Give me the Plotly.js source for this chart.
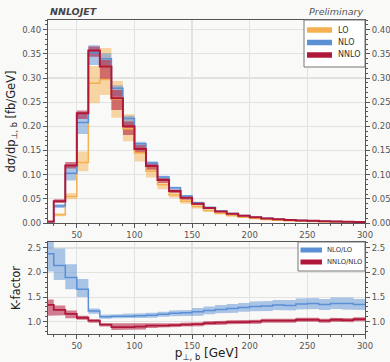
<!DOCTYPE html>
<html><head><meta charset="utf-8">
<script src="https://cdn.plot.ly/plotly-3.0.1.min.js"></script>
<style>html,body{margin:0;padding:0;background:#f9f9f7;} #chart{width:390px;height:362px;}</style>
</head><body><div id="chart"></div>
<script>
// ---- data (bins in p_T,b [GeV]) ----
const binEdges = [25,30,40,50,60,70,80,90,100,110,120,130,140,150,160,170,180,190,200,210,220,230,240,250,260,270,280,290,300];

const loCentral = [0.001,0.017,0.055,0.125,0.289,0.297,0.256,0.195,0.145,0.107,0.079,0.058,0.045,0.034,0.026,0.020,0.0155,0.012,0.0093,0.0073,0.0058,0.0047,0.0038,0.0032,0.0026,0.0022,0.0018,0.0015];
const loUpper   = [0.0015,0.020,0.062,0.148,0.325,0.362,0.294,0.225,0.157,0.117,0.086,0.063,0.049,0.037,0.028,0.022,0.017,0.013,0.0102,0.008,0.0064,0.0052,0.0042,0.0035,0.0029,0.0024,0.002,0.0017];
const loLower   = [0.0007,0.014,0.049,0.107,0.248,0.265,0.218,0.169,0.127,0.094,0.070,0.052,0.040,0.030,0.023,0.0176,0.0136,0.0105,0.0082,0.0064,0.0051,0.0041,0.0033,0.0028,0.0023,0.0019,0.0016,0.0013];

const nloCentral = [0.002,0.035,0.103,0.208,0.352,0.340,0.279,0.216,0.164,0.124,0.095,0.073,0.056,0.042,0.032,0.025,0.0195,0.0153,0.012,0.0096,0.0077,0.0063,0.0052,0.0043,0.0036,0.0029,0.0024,0.0020];
const nloUpper   = [0.003,0.039,0.117,0.229,0.368,0.351,0.285,0.222,0.168,0.128,0.098,0.075,0.058,0.044,0.034,0.026,0.0205,0.0162,0.0127,0.0102,0.0082,0.0067,0.0056,0.0046,0.0039,0.0031,0.0026,0.0022];
const nloLower   = [0.001,0.031,0.088,0.184,0.327,0.327,0.262,0.203,0.155,0.117,0.089,0.068,0.052,0.039,0.030,0.023,0.018,0.0142,0.0112,0.0089,0.0071,0.0058,0.0048,0.0040,0.0033,0.0027,0.0022,0.0018];

const nnloCentral = [0.003,0.045,0.119,0.227,0.357,0.324,0.258,0.200,0.153,0.118,0.089,0.066,0.052,0.040,0.031,0.024,0.019,0.015,0.012,0.0095,0.0078,0.0064,0.0053,0.0044,0.0036,0.0030,0.0025,0.0021];
const nnloUpper   = [0.004,0.049,0.126,0.233,0.365,0.337,0.275,0.210,0.162,0.124,0.093,0.069,0.054,0.042,0.032,0.025,0.020,0.0157,0.0126,0.0100,0.0082,0.0067,0.0056,0.0046,0.0038,0.0032,0.0027,0.0022];
const nnloLower   = [0.002,0.042,0.113,0.215,0.344,0.296,0.234,0.182,0.145,0.110,0.083,0.062,0.048,0.037,0.029,0.022,0.0175,0.0138,0.011,0.0087,0.0072,0.0059,0.0049,0.0040,0.0033,0.0027,0.0023,0.0019];

const kNloLoCentral = [2.38,2.14,1.90,1.66,1.22,1.10,1.11,1.11,1.12,1.13,1.15,1.17,1.18,1.20,1.23,1.25,1.27,1.29,1.31,1.32,1.34,1.33,1.36,1.37,1.35,1.37,1.37,1.35];
const kNloLoUpper   = [2.75,2.49,2.17,1.87,1.27,1.14,1.15,1.16,1.17,1.18,1.20,1.23,1.24,1.28,1.31,1.34,1.36,1.38,1.41,1.42,1.44,1.44,1.47,1.48,1.46,1.49,1.49,1.46];
const kNloLoLower   = [2.02,1.85,1.66,1.50,1.16,1.06,1.07,1.07,1.07,1.08,1.10,1.11,1.12,1.12,1.15,1.17,1.18,1.20,1.21,1.22,1.24,1.23,1.25,1.26,1.24,1.26,1.25,1.24];

const kNnloNloCentral = [1.34,1.24,1.16,1.08,1.02,0.94,0.89,0.89,0.90,0.92,0.92,0.93,0.94,0.95,0.97,0.98,0.99,0.99,1.00,1.02,1.02,1.02,1.04,1.04,1.02,1.04,1.03,1.05];
const kNnloNloUpper   = [1.45,1.33,1.23,1.12,1.05,0.97,0.96,0.96,0.96,0.96,0.96,0.97,0.98,0.99,1.01,1.02,1.03,1.03,1.04,1.06,1.06,1.06,1.08,1.08,1.06,1.08,1.07,1.09];
const kNnloNloLower   = [1.12,1.13,1.07,1.04,0.98,0.90,0.83,0.83,0.84,0.87,0.88,0.89,0.90,0.91,0.93,0.94,0.95,0.95,0.96,0.98,0.98,0.98,1.00,1.00,0.98,1.00,0.99,1.01];

const xTickVals = [50,100,150,200,250,300];
const mainLegendLabels = ['LO','NLO','NNLO'];
const ratioLegendLabels = ['NLO/LO','NNLO/NLO'];

// ---- styles ----
const COL = {lo:'#F5B14F', nlo:'#5B8FD6', nnlo:'#B0183A'};
const FILL = {lo:'rgba(245,177,79,0.5)', nlo:'rgba(91,143,214,0.5)', nnlo:'rgba(176,24,58,0.55)'};
const FONT = 'DejaVu Sans, sans-serif';

function stepLine(vals, xa, ya, color, width){
  return {type:'scatter', mode:'lines', x:binEdges, y:vals.concat([vals[vals.length-1]]),
    line:{shape:'hv', color:color, width:width}, xaxis:xa, yaxis:ya, showlegend:false, hoverinfo:'skip'};
}
function band(lo, hi, xa, ya, fill){
  const xs=[], ys=[];
  for(let i=0;i<hi.length;i++){ xs.push(binEdges[i], binEdges[i+1]); ys.push(hi[i], hi[i]); }
  for(let i=lo.length-1;i>=0;i--){ xs.push(binEdges[i+1], binEdges[i]); ys.push(lo[i], lo[i]); }
  return {type:'scatter', mode:'lines', x:xs, y:ys, fill:'toself', fillcolor:fill,
    line:{width:0}, xaxis:xa, yaxis:ya, showlegend:false, hoverinfo:'skip'};
}

const data = [
  band(loLower, loUpper, 'x','y', FILL.lo),
  band(nloLower, nloUpper, 'x','y', FILL.nlo),
  band(nnloLower, nnloUpper, 'x','y', FILL.nnlo),
  stepLine(loCentral, 'x','y', COL.lo, 1.5),
  stepLine(nloCentral, 'x','y', COL.nlo, 1.5),
  stepLine(nnloCentral, 'x','y', COL.nnlo, 2),
  band(kNloLoLower, kNloLoUpper, 'x2','y2', FILL.nlo),
  band(kNnloNloLower, kNnloNloUpper, 'x2','y2', FILL.nnlo),
  stepLine(kNloLoCentral, 'x2','y2', COL.nlo, 1.5),
  stepLine(kNnloNloCentral, 'x2','y2', COL.nnlo, 1.8),
  // carriers for right-side mirrored tick labels
  {type:'scatter', x:[null], y:[null], xaxis:'x', yaxis:'y3', showlegend:false, hoverinfo:'skip'},
  {type:'scatter', x:[null], y:[null], xaxis:'x2', yaxis:'y4', showlegend:false, hoverinfo:'skip'}
];

// ---- layout geometry (pixels -> paper) ----
const W=390, H=362, ML=48, MR=25, MT=20, MB=28;
const PW=W-ML-MR, PH=H-MT-MB;
const px = v => (v-ML)/PW;
const py = v => (H-MB-v)/PH;

const tickFont = {family:FONT, size:8.5, color:'#555'};
const axLine = {showline:true, linecolor:'#555', linewidth:1.2};
const gridC = '#e2e2e2';

const xCommon = Object.assign({range:[25,300], tickvals:xTickVals, ticks:'outside', ticklen:4, tickcolor:'#555',
  tickfont:tickFont, showgrid:true, gridcolor:gridC, gridwidth:1.2, zeroline:false, mirror:true,
  minor:{dtick:10, tick0:0, ticks:'outside', ticklen:2, tickcolor:'#555', showgrid:false}}, axLine);

const shapes=[], annotations=[];
// top legend
shapes.push({type:'rect', xref:'paper', yref:'paper', x0:px(304), x1:px(365), y0:py(67), y1:py(20),
  fillcolor:'#ffffff', line:{color:'#777', width:1}});
const mainCols=[COL.lo, COL.nlo, COL.nnlo];
const mainRowY=[30,42.5,55];
mainLegendLabels.forEach((t,i)=>{
  shapes.push({type:'line', xref:'paper', yref:'paper', x0:px(307), x1:px(332), y0:py(mainRowY[i]), y1:py(mainRowY[i]),
    line:{color:mainCols[i], width:5.5}});
  annotations.push({xref:'paper', yref:'paper', x:px(336), y:py(mainRowY[i]), xanchor:'left', yanchor:'middle',
    text:t, showarrow:false, font:{family:FONT, size:8, color:'#333'}});
});
// ratio legend
shapes.push({type:'rect', xref:'paper', yref:'paper', x0:px(298), x1:px(365), y0:py(271), y1:py(242),
  fillcolor:'#ffffff', line:{color:'#777', width:1}});
const ratioCols=[COL.nlo, COL.nnlo];
const ratioRowY=[250,262];
ratioLegendLabels.forEach((t,i)=>{
  shapes.push({type:'line', xref:'paper', yref:'paper', x0:px(300.5), x1:px(322), y0:py(ratioRowY[i]), y1:py(ratioRowY[i]),
    line:{color:ratioCols[i], width:5}});
  annotations.push({xref:'paper', yref:'paper', x:px(325), y:py(ratioRowY[i]), xanchor:'left', yanchor:'middle',
    text:t, showarrow:false, font:{family:FONT, size:6.8, color:'#333'}});
});
annotations.push({xref:'paper', yref:'paper', x:0, y:1, xanchor:'left', yanchor:'bottom', yshift:1,
  text:'<b><i>NNLOJET</i></b>', showarrow:false, font:{family:FONT, size:9.5, color:'#444'}});
annotations.push({xref:'paper', yref:'paper', x:1, y:1, xanchor:'right', yanchor:'bottom', yshift:1,
  text:'<i>Preliminary</i>', showarrow:false, font:{family:FONT, size:9.5, color:'#555'}});

const layout = {
  width:W, height:H, margin:{l:ML, r:MR, t:MT, b:MB, pad:0},
  paper_bgcolor:'#f9f9f7', plot_bgcolor:'#f9f9f7', showlegend:false,
  font:{family:FONT, color:'#333'},
  xaxis: Object.assign({}, xCommon, {domain:[0,1], anchor:'y'}),
  xaxis2: Object.assign({}, xCommon, {domain:[0,1], anchor:'y2', matches:'x',
    title:{text:'p<sub>⊥, b</sub> [GeV]', font:{family:FONT, size:12, color:'#222'}, standoff:2}}),
  yaxis: Object.assign({domain:[py(223),1], anchor:'x', range:[0,0.42], dtick:0.05, tick0:0, tickformat:'.2f',
    ticks:'outside', ticklen:4, tickcolor:'#555', tickfont:tickFont, showgrid:true, gridcolor:gridC, gridwidth:1.2,
    zeroline:false, mirror:true,
    minor:{dtick:0.01, ticks:'outside', ticklen:2, tickcolor:'#555', showgrid:false},
    title:{text:'dσ/dp<sub>⊥, b</sub> [fb/GeV]', font:{family:FONT, size:11.5, color:'#222'}, standoff:4}}, axLine),
  yaxis3: {overlaying:'y', side:'right', anchor:'x', range:[0,0.42], dtick:0.05, tick0:0, tickformat:'.2f',
    ticks:'outside', ticklen:4, tickcolor:'#555', tickfont:tickFont, showgrid:false, zeroline:false, showline:false,
    minor:{dtick:0.01, ticks:'outside', ticklen:2, tickcolor:'#555', showgrid:false}},
  yaxis2: Object.assign({domain:[0,py(242)], anchor:'x2', range:[0.75,2.62], dtick:0.5, tick0:0, tickformat:'.1f',
    ticks:'outside', ticklen:4, tickcolor:'#555', tickfont:tickFont, showgrid:true, gridcolor:gridC, gridwidth:1.2,
    zeroline:false, mirror:true,
    minor:{dtick:0.1, ticks:'outside', ticklen:2, tickcolor:'#555', showgrid:false},
    title:{text:'K-factor', font:{family:FONT, size:11.5, color:'#222'}, standoff:4}}, axLine),
  yaxis4: {overlaying:'y2', side:'right', anchor:'x2', range:[0.75,2.62], dtick:0.5, tick0:0, tickformat:'.1f',
    ticks:'outside', ticklen:4, tickcolor:'#555', tickfont:tickFont, showgrid:false, zeroline:false, showline:false,
    minor:{dtick:0.1, ticks:'outside', ticklen:2, tickcolor:'#555', showgrid:false}},
  shapes: shapes, annotations: annotations
};

Plotly.newPlot('chart', data, layout, {displayModeBar:false, staticPlot:true});
</script></body></html>
